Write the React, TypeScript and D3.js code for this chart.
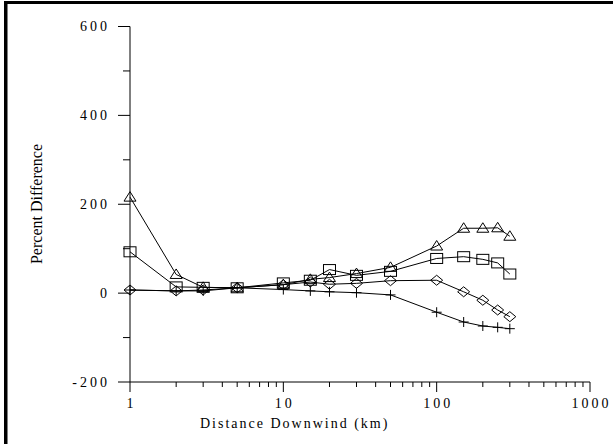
import React from "react";
import * as d3 from "d3";

const distances = [1, 2, 3, 5, 10, 15, 20, 30, 50, 100, 150, 200, 250, 300];
const triangleSeries = [216, 42, 13, 12, 19, 31, 35, 44, 58, 106, 146, 146, 147, 128];
const squareSeries = [93, 14, 13, 12, 23, 29, 53, 40, 49, 78, 82, 76, 68, 43];
const diamondSeries = [7, 5, 7, 12, 19, 25, 20, 22, 28, 29, 3, -16, -38, -53];
const plusSeries = [7, 5, 5, 12, 8, 5, 3, 1, -4, -43, -65, -74, -77, -80];

const yMajorTicks = [-200, 0, 200, 400, 600];
const yMinorTicks = [-100, 100, 300, 500];
const xMajorTicks = [1, 10, 100, 1000];
const xTickLabels = ["1", "10", "100", "1000"];
const yTickLabels = ["-200", "0", "200", "400", "600"];

const W = 613;
const H = 444;
const x = d3.scaleLog().domain([1, 1000]).range([130, 590]);
const y = d3.scaleLinear().domain([-200, 600]).range([382, 26.5]);

const xMinorTicks: number[] = [];
[1, 10, 100].forEach((d) => {
  for (let k = 2; k <= 9; k++) xMinorTicks.push(d * k);
});

type Shape = "triangle" | "square" | "diamond" | "plus";

function marker(shape: Shape, cx: number, cy: number, key: string) {
  const common = { fill: "none", stroke: "#000", strokeWidth: 1 };
  if (shape === "triangle") {
    const p = `M${cx},${cy - 5.5} L${cx + 6},${cy + 4} L${cx - 6},${cy + 4} Z`;
    return <path key={key} d={p} {...common} />;
  }
  if (shape === "square") {
    return <rect key={key} x={cx - 6} y={cy - 5} width={12} height={10} {...common} />;
  }
  if (shape === "diamond") {
    const p = `M${cx},${cy - 5} L${cx + 6},${cy} L${cx},${cy + 5} L${cx - 6},${cy} Z`;
    return <path key={key} d={p} {...common} />;
  }
  const p = `M${cx - 5},${cy} L${cx + 5},${cy} M${cx},${cy - 5} L${cx},${cy + 5}`;
  return <path key={key} d={p} {...common} />;
}

const series: { shape: Shape; values: number[] }[] = [
  { shape: "plus", values: plusSeries },
  { shape: "diamond", values: diamondSeries },
  { shape: "square", values: squareSeries },
  { shape: "triangle", values: triangleSeries },
];

export default function App() {
  const line = d3
    .line<number>()
    .x((_, i) => x(distances[i]))
    .y((v) => y(v));
  const font = "'Liberation Serif', 'Times New Roman', serif";
  return (
    <svg
      width={W}
      height={H}
      style={{ position: "absolute", left: 0, top: 0, background: "#fff" }}
    >
      <rect x={0} y={0} width={W} height={H} fill="#fff" />
      <rect x={4} y={1} width={W - 4} height={3} fill="#000" />
      <rect x={4} y={1} width={3.5} height={H - 1} fill="#000" />

      {/* y axis */}
      <line x1={x(1)} x2={x(1)} y1={y(600)} y2={y(-200)} stroke="#000" strokeWidth={1} />
      {yMajorTicks.map((t, i) => (
        <g key={"ym" + t}>
          <line x1={x(1) - 12} x2={x(1)} y1={y(t)} y2={y(t)} stroke="#000" strokeWidth={1} />
          <text
            x={110}
            y={y(t)}
            dy="0.35em"
            textAnchor="end"
            fontFamily={font}
            fontSize={14}
            letterSpacing={3}
          >
            {yTickLabels[i]}
          </text>
        </g>
      ))}
      {yMinorTicks.map((t) => (
        <line key={"yn" + t} x1={x(1) - 7} x2={x(1)} y1={y(t)} y2={y(t)} stroke="#000" strokeWidth={1} />
      ))}

      {/* x axis */}
      <line x1={x(1)} x2={x(1000)} y1={y(-200)} y2={y(-200)} stroke="#000" strokeWidth={1} />
      {xMajorTicks.map((t, i) => (
        <g key={"xm" + t}>
          <line x1={x(t)} x2={x(t)} y1={y(-200)} y2={y(-200) + 10} stroke="#000" strokeWidth={1} />
          <text
            x={x(t) + 1.5}
            y={403}
            dy="0.35em"
            textAnchor="middle"
            fontFamily={font}
            fontSize={14}
            letterSpacing={3}
          >
            {xTickLabels[i]}
          </text>
        </g>
      ))}
      {xMinorTicks.map((t) => (
        <line key={"xn" + t} x1={x(t)} x2={x(t)} y1={y(-200)} y2={y(-200) + 5} stroke="#000" strokeWidth={1} />
      ))}

      <text
        x={200}
        y={423}
        dy="0.35em"
        fontFamily={font}
        fontSize={14}
        letterSpacing={2}
      >
        Distance Downwind (km)
      </text>
      <text
        transform={`translate(36,204) rotate(-90)`}
        textAnchor="middle"
        dy="0.35em"
        fontFamily={font}
        fontSize={16}
      >
        Percent Difference
      </text>

      {series.map((s) => (
        <g key={s.shape}>
          <path d={line(s.values) || ""} fill="none" stroke="#000" strokeWidth={1} />
          {s.values.map((v, i) => marker(s.shape, x(distances[i]), y(v), s.shape + i))}
        </g>
      ))}
    </svg>
  );
}
